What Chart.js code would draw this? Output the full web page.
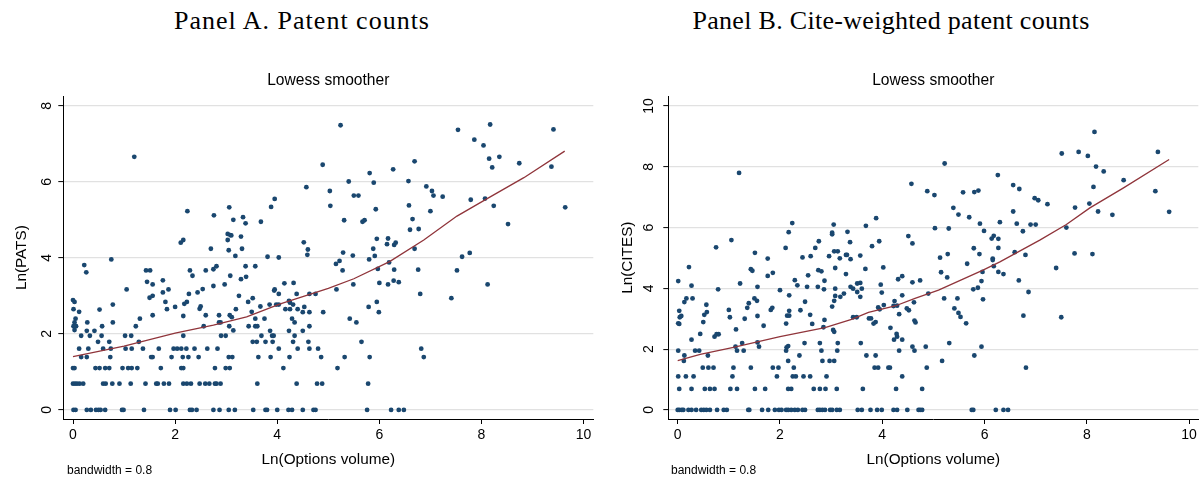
<!DOCTYPE html>
<html>
<head>
<meta charset="utf-8">
<script src="https://cdn.jsdelivr.net/npm/chart.js@4.4.0/dist/chart.umd.min.js"></script>
<style>
  body { margin: 0; background: #fff; width: 1203px; height: 489px; position: relative; overflow: hidden; }
  canvas { position: absolute; top: 0; }
  .ptitle { position: absolute; top: 8px; font-family: "Liberation Serif", serif; font-size: 26px; line-height: 26px;
            letter-spacing: 0.3px; white-space: nowrap; transform: translateX(-50%); color: #000; }
  .note { position: absolute; top: 463px; font-family: "Liberation Sans", Arial, sans-serif; font-size: 12px;
          line-height: 14px; white-space: nowrap; color: #000; }
</style>
</head>
<body>
<div class="ptitle" style="left:302px; letter-spacing:1px">Panel A. Patent counts</div>
<div class="ptitle" style="left:891px">Panel B. Cite-weighted patent counts</div>
<canvas id="chartA" width="600" height="489" style="left:0"></canvas>
<canvas id="chartB" width="603" height="489" style="left:600px"></canvas>
<div class="note" style="left:67px">bandwidth = 0.8</div>
<div class="note" style="left:671px">bandwidth = 0.8</div>
<script>
// ticks
const xTicks = [0, 2, 4, 6, 8, 10];
const patsTicks = [0, 2, 4, 6, 8];
const citesTicks = [0, 2, 4, 6, 8, 10];

// Panel A: [Ln(Options volume), Ln(PATS)]
const patsPoints = [
  // zero patents
  [0.01,0],[0.05,0],[0.27,0],[0.35,0],[0.45,0],[0.50,0],[0.54,0],[0.63,0],[0.96,0],[0.99,0],[1.39,0],[1.90,0],[2.01,0],
  [2.29,0],[2.33,0],[2.42,0],[2.75,0],[2.87,0],[3.05,0],[3.17,0],[3.53,0],[3.77,0],[3.80,0],[4.00,0],[4.22,0],[4.29,0],
  [4.50,0],[4.71,0],[4.75,0],[5.76,0],[6.23,0],[6.38,0],[6.48,0],
  // 0.69
  [0.00,0.69],[0.04,0.69],[0.08,0.69],[0.13,0.69],[0.20,0.69],[0.59,0.69],[0.64,0.69],[0.77,0.69],[0.91,0.69],[1.13,0.69],
  [1.42,0.69],[1.63,0.69],[1.66,0.69],[1.78,0.69],[1.88,0.69],[2.16,0.69],[2.23,0.69],[2.31,0.69],[2.48,0.69],[2.59,0.69],
  [2.67,0.69],[2.78,0.69],[2.81,0.69],[2.89,0.69],[3.61,0.69],[4.38,0.69],[4.78,0.69],[4.88,0.69],[5.78,0.69],
  // 1.10
  [0.00,1.10],[0.03,1.10],[0.44,1.10],[0.52,1.10],[0.63,1.10],[0.71,1.10],[0.97,1.10],[1.08,1.10],[1.15,1.10],[1.26,1.10],
  [1.72,1.10],[2.12,1.10],[2.16,1.10],[2.78,1.10],[2.99,1.10],[3.07,1.10],[4.12,1.10],[5.18,1.10],
  // 1.39
  [0.16,1.39],[0.27,1.39],[0.73,1.39],[1.53,1.39],[1.56,1.39],[1.93,1.39],[2.15,1.39],[2.26,1.39],[2.46,1.39],[3.05,1.39],
  [3.12,1.39],[3.63,1.39],[3.87,1.39],[4.24,1.39],[4.86,1.39],[5.32,1.39],[5.81,1.39],[6.87,1.39],
  // 1.61
  [0.12,1.61],[0.30,1.61],[0.59,1.61],[0.74,1.61],[1.03,1.61],[1.15,1.61],[1.37,1.61],[1.68,1.61],[1.97,1.61],[2.04,1.61],
  [2.12,1.61],[2.22,1.61],[2.38,1.61],[2.63,1.61],[2.83,1.61],[4.03,1.61],[4.40,1.61],[4.63,1.61],[4.80,1.61],[6.82,1.61],
  // 1.79
  [0.49,1.79],[0.71,1.79],[1.29,1.79],[3.52,1.79],[3.60,1.79],[3.77,1.79],[3.91,1.79],[4.31,1.79],[4.61,1.79],[5.65,1.79],
  // 1.95
  [0.16,1.95],[0.33,1.95],[0.56,1.95],[1.02,1.95],[1.14,1.95],[2.16,1.95],[2.90,1.95],[2.99,1.95],[3.69,1.95],[3.90,1.95],
  [3.93,1.95],[4.34,1.95],
  // 2.08 - 2.40
  [0.27,2.08],[0.42,2.08],[0.03,2.10],[3.14,2.09],[3.86,2.08],[4.23,2.08],[4.50,2.08],
  [0.01,2.20],[0.06,2.20],[0.57,2.20],[1.23,2.20],[2.56,2.20],[3.06,2.20],[3.44,2.20],[3.57,2.20],[3.61,2.20],[4.63,2.20],
  [0.03,2.30],[0.28,2.30],[0.78,2.30],[2.86,2.30],[2.89,2.30],[4.34,2.30],[5.55,2.30],
  [0.05,2.40],[1.31,2.40],[3.57,2.40],[3.75,2.40],[4.29,2.40],[5.42,2.40],
  // 2.4 - 3.4
  [0.00,2.89],[0.03,2.84],[0.01,2.65],[0.12,2.58],[0.52,2.64],[0.78,2.77],[1.50,2.95],[1.56,3.00],[1.56,2.49],[1.76,3.09],
  [1.81,2.84],[1.84,2.65],[2.00,2.71],[2.16,2.47],[2.18,2.79],[2.44,3.09],[2.27,3.05],[2.23,2.84],[2.50,2.72],[2.48,2.66],
  [2.60,2.49],[2.86,2.49],[3.07,2.49],[3.11,2.44],[3.19,2.65],[3.25,3.00],[3.43,2.84],[3.52,2.94],[3.50,2.58],[3.67,2.72],
  [3.85,2.77],[3.98,2.77],[4.03,2.77],[3.94,3.14],[4.03,3.05],[4.14,3.33],[4.23,2.87],[4.25,2.82],[4.31,2.77],[4.16,2.65],
  [4.25,2.65],[4.40,2.65],[4.53,2.71],[4.50,2.57],[4.63,2.57],[4.90,2.57],[4.38,3.05],[4.63,3.05],[4.75,3.05],[6.80,3.05],
  [7.41,2.94],[5.79,2.71],[5.95,2.84],[5.99,2.57],
  // upper left
  [1.20,6.66],[0.22,3.81],[0.26,3.62],[0.75,3.96],[1.43,3.67],[1.51,3.67],[1.45,3.37],[1.56,3.30],[1.76,3.41],[2.24,5.23],
  [2.11,4.40],[2.16,4.47],[2.29,3.67],[2.34,3.53],[2.60,3.67],[2.81,3.78],[2.75,3.70],[2.70,4.24],[2.76,5.12],[2.75,3.26],
  [2.97,3.30],[2.54,3.18],[3.06,5.33],[3.14,5.00],[3.33,5.07],[3.38,4.91],[3.03,4.63],[3.08,4.60],[3.03,4.47],[3.10,4.59],
  [3.05,4.20],[3.29,4.56],[3.31,4.24],[3.18,4.05],[3.08,3.53],[3.38,3.78],[3.39,3.50],[3.29,3.44],[3.57,3.78],[3.68,4.95],
  [3.81,4.03],[4.03,4.01],[3.88,5.34],[3.95,5.55],[4.32,3.34],[3.95,3.17],[1.05,3.17],[1.87,3.17],
  // upper right
  [4.52,4.41],[4.60,4.22],[4.59,4.08],[5.24,7.49],[4.89,6.45],[4.57,5.86],[5.03,5.76],[5.04,5.37],[5.40,6.01],[5.50,5.64],
  [5.59,5.64],[5.81,6.23],[5.89,5.98],[6.27,6.33],[5.93,5.28],[5.31,4.99],[5.67,4.95],[5.71,4.99],[6.69,6.54],[6.57,6.02],
  [6.58,5.38],[6.65,5.02],[6.60,4.74],[6.77,4.76],[6.92,5.88],[7.03,5.76],[7.06,5.64],[7.24,5.61],[7.00,5.23],[7.54,7.37],
  [8.17,7.51],[7.86,7.11],[8.04,6.96],[8.15,6.61],[8.21,6.38],[8.35,6.66],[8.74,6.49],[9.41,7.38],[9.37,6.40],[9.64,5.33],
  [7.79,5.53],[8.07,5.56],[8.24,5.37],[8.52,4.89],[5.29,4.14],[5.22,3.92],[5.15,3.84],[5.28,3.67],[5.48,4.06],[5.95,4.50],
  [5.88,4.24],[5.91,4.05],[5.80,3.96],[5.97,3.71],[6.15,4.36],[6.17,4.51],[6.29,4.34],[6.32,4.40],[6.19,3.88],[6.29,3.69],
  [6.69,4.24],[6.76,3.69],[6.00,3.34],[6.17,3.30],[6.28,3.40],[6.38,3.36],[5.49,3.30],[5.16,3.17],[7.52,3.67],[7.62,4.03],
  [7.77,4.13],[8.12,3.30]
];

// Panel B: [Ln(Options volume), Ln(CITES)]
const citesPoints = [
  // zero cites
  [0.00,0],[0.03,0],[0.08,0],[0.11,0],[0.21,0],[0.27,0],[0.36,0],[0.46,0],[0.51,0],[0.56,0],[0.63,0],[0.77,0],[0.90,0],
  [0.96,0],[1.38,0],[1.40,0],[1.65,0],[1.77,0],[1.90,0],[1.98,0],[2.03,0],[2.12,0],[2.16,0],[2.22,0],[2.29,0],[2.35,0],
  [2.44,0],[2.49,0],[2.74,0],[2.78,0],[2.83,0],[2.88,0],[2.98,0],[3.02,0],[3.11,0],[3.17,0],[3.52,0],[3.60,0],[3.77,0],
  [3.90,0],[3.99,0],[4.22,0],[4.29,0],[4.49,0],[4.71,0],[4.74,0],[4.78,0],[5.75,0],[5.78,0],[6.22,0],[6.37,0],[6.46,0],
  // 0.69
  [0.03,0.69],[0.27,0.69],[0.53,0.69],[0.63,0.69],[0.72,0.69],[1.03,0.69],[1.16,0.69],[1.51,0.69],[1.71,0.69],[2.16,0.69],
  [2.22,0.69],[2.66,0.69],[2.78,0.69],[2.89,0.69],[3.11,0.69],[3.62,0.69],[4.27,0.69],[4.78,0.69],
  // 1.10
  [0.01,1.10],[0.16,1.10],[0.31,1.10],[1.07,1.10],[1.94,1.10],[2.25,1.10],[2.31,1.10],[2.46,1.10],[2.59,1.10],[2.91,1.10],
  [4.39,1.10],
  // 1.39
  [0.49,1.39],[0.60,1.39],[0.70,1.39],[1.09,1.39],[1.43,1.39],[1.86,1.39],[1.97,1.39],[2.27,1.39],[3.85,1.39],[3.92,1.39],
  [4.12,1.39],[4.15,1.39],[4.87,1.39],[6.81,1.39],
  // 1.61 - 2.20
  [0.12,1.61],[2.16,1.61],[2.83,1.61],[2.97,1.61],[3.06,1.61],[5.17,1.61],
  [0.13,1.79],[0.59,1.79],[2.38,1.79],[3.69,1.79],[3.87,1.79],[5.80,1.79],
  [0.01,1.95],[0.34,1.95],[0.42,1.95],[1.16,1.95],[1.29,1.95],[2.12,1.95],[2.81,1.95],[3.12,1.95],[4.33,1.95],[4.63,1.95],
  [1.13,2.08],[1.59,2.08],[2.13,2.06],[2.16,2.10],[4.59,2.08],[4.85,2.08],[5.94,2.08],
  [1.26,2.20],[1.56,2.22],[2.48,2.20],[2.78,2.20],[3.13,2.20],[3.58,2.20],[5.31,2.20],
  // lower left cloud
  [0.17,3.67],[0.13,3.55],[0.29,3.67],[0.03,3.26],[0.04,3.05],[0.07,3.09],[0.01,2.85],[0.03,2.83],[0.27,2.31],[0.44,2.50],
  [0.50,2.89],[0.52,3.13],[0.57,3.22],[0.56,3.46],[0.72,2.41],[0.76,2.49],[0.80,2.49],[1.00,3.29],[1.02,3.05],[1.14,2.65],
  [1.31,3.00],[1.36,3.36],[1.39,3.51],[1.50,3.67],[1.55,3.59],[1.56,3.09],[1.68,2.77],[1.82,3.29],[1.85,3.36],[2.18,3.77],
  [2.12,2.84],[2.14,3.10],[2.18,3.10],[3.08,3.75],[3.51,3.88],[3.57,3.72],[3.25,3.83],[3.18,3.72],[3.99,3.86],[2.49,3.56],
  [2.40,3.28],[2.18,3.26],[2.59,3.13],[2.63,2.83],[2.87,2.96],[3.02,3.40],[3.06,3.59],[2.85,2.72],[3.04,2.63],[3.06,2.57],
  [3.43,3.05],[3.50,3.05],[3.74,3.01],[3.78,3.01],[3.83,2.84],[3.87,2.89],[3.92,3.37],[3.95,3.31],[4.03,3.45],
  [4.24,3.58],[4.29,3.43],[4.22,3.42],[4.62,3.54],[4.48,3.34],[4.52,3.28],[4.33,3.15],[4.63,2.94],[4.65,2.88],[4.16,2.70],
  [4.28,2.50],[4.29,2.41],[4.23,2.31],[4.39,2.31],[4.39,3.77],[4.90,3.83],
  [5.21,3.67],[5.47,3.67],[5.41,3.34],[5.49,3.19],[5.53,3.06],[5.64,2.85],[5.97,3.64],[6.86,3.88],[6.76,3.10],[7.50,3.05],
  // upper left
  [1.20,7.80],[0.75,5.35],[1.05,5.59],[0.22,4.70],[0.01,4.24],[0.27,4.09],[1.22,4.16],[0.79,3.97],[1.51,5.17],[1.43,4.63],
  [1.46,4.58],[1.76,4.98],[1.86,4.51],[1.76,4.41],[1.56,4.05],[2.00,3.94],[2.11,5.33],[2.17,5.85],[2.24,6.15],[2.29,4.27],
  [2.34,4.10],[2.44,5.02],[2.55,4.43],[2.60,5.06],[2.53,4.05],[2.69,5.33],[2.76,5.55],[2.75,4.60],[2.81,4.56],[2.87,4.25],
  [2.74,4.05],[2.86,3.97],[2.96,5.06],[3.05,6.10],[3.02,5.83],[3.02,5.78],[3.06,5.22],[3.13,5.22],[3.08,4.67],[3.17,4.99],
  [3.08,3.99],[3.29,5.10],[3.31,5.10],[3.32,5.86],[3.37,5.52],[3.38,4.96],[3.29,4.47],[3.38,4.05],[3.43,3.99],[3.51,4.16],
  [3.57,4.18],[3.57,5.08],[3.67,4.64],[3.68,6.06],[3.60,3.99],[3.80,5.39],[3.88,6.31],[3.94,5.55],[3.97,4.12],[4.02,4.69],
  [4.31,4.30],
  // upper right
  [5.22,8.11],[4.57,7.44],[4.88,7.20],[5.02,7.07],[5.58,7.16],[5.80,7.17],[5.88,7.22],[6.26,7.73],[5.39,6.65],[5.49,6.43],
  [5.70,6.34],[5.03,5.98],[5.30,5.97],[5.91,6.13],[5.99,5.89],[6.14,5.64],[6.18,5.73],[6.27,5.63],[6.30,6.18],[6.56,7.40],
  [6.68,7.27],[6.56,6.53],[6.63,6.13],[6.75,5.88],[6.90,6.10],[7.00,6.10],[6.98,6.97],[7.05,6.90],[7.23,6.77],[7.51,8.44],
  [7.84,8.49],[8.02,8.36],[8.15,9.15],[8.18,8.01],[8.33,7.85],[8.13,7.34],[7.77,6.66],[8.05,6.79],[8.22,6.53],[8.50,6.42],
  [8.72,7.56],[9.39,8.49],[9.34,7.20],[9.61,6.52],[7.60,6.00],[7.76,5.15],[8.11,5.13],[7.40,4.67],[4.51,5.72],[4.59,5.48],
  [5.13,5.01],[5.28,5.13],[5.15,4.53],[5.27,4.36],[5.66,4.81],[5.79,5.32],[5.90,5.13],[6.16,4.98],[6.16,4.93],[6.18,4.73],
  [6.27,5.33],[5.96,4.54],[5.94,4.24],[6.27,4.54],[6.37,4.47],[6.59,5.19],[6.80,5.10],[6.67,4.26],[4.39,4.40],[4.59,4.20],
  [4.74,4.26],[5.87,4.02],[5.78,3.97]
];

// lowess curves
const patsLowessX = [0, 1, 2, 2.75, 3.4, 4.06, 4.5, 5, 5.5, 6.2, 6.87, 7.52, 8.18, 8.83, 9.63];
const patsLowessY = [1.40, 1.68, 2.02, 2.23, 2.45, 2.79, 2.98, 3.20, 3.45, 3.90, 4.47, 5.10, 5.61, 6.11, 6.81];
const citesLowessX = [0, 0.44, 1.09, 2.0, 2.88, 3.4, 3.73, 4.25, 4.64, 5.1, 5.97, 6.3, 7.08, 7.6, 8.06, 8.71, 9.61];
const citesLowessY = [1.62, 1.83, 2.06, 2.41, 2.71, 2.98, 3.21, 3.42, 3.67, 3.94, 4.60, 4.87, 5.59, 6.10, 6.65, 7.30, 8.24];

const NAVY = "#1a476f";
const MAROON = "#90353b";
const FONT = "'Liberation Sans', Arial, sans-serif";

function makePanel(canvasId, cfg) {
  const pts = cfg.points.map(p => ({ x: p[0], y: p[1] }));
  const curve = cfg.lowessX.map((x, i) => ({ x: x, y: cfg.lowessY[i] }));

  return new Chart(document.getElementById(canvasId), {
    type: "scatter",
    data: {
      datasets: [
        {
          data: curve,
          showLine: true,
          borderColor: MAROON,
          borderWidth: 1.3,
          pointRadius: 0,
          fill: false
        },
        {
          data: pts,
          pointRadius: 2.4,
          pointBorderWidth: 0,
          pointBackgroundColor: NAVY
        }
      ]
    },
    options: {
      responsive: false,
      animation: false,
      devicePixelRatio: 1,
      layout: { padding: { top: 70.84, right: cfg.padRight, left: 0, bottom: 0 } },
      plugins: {
        legend: { display: false },
        tooltip: { enabled: false },
        title: {
          display: true,
          text: "Lowess smoother",
          fullSize: false,
          color: "#000",
          font: { family: FONT, size: 15.6, weight: "normal" },
          padding: { top: 0, bottom: 6.8 }
        }
      },
      scales: {
        x: {
          type: "linear",
          min: cfg.xMin,
          max: cfg.xMax,
          afterBuildTicks: s => { s.ticks = xTicks.map(v => ({ value: v })); },
          afterFit: s => { s.height = 70; },
          grid: { drawOnChartArea: false, drawTicks: true, tickLength: 5, tickColor: "#000", tickWidth: 1 },
          border: { display: true, color: "#000", width: 1 },
          ticks: { color: "#000", font: { family: FONT, size: 14 }, padding: 3, maxRotation: 0 },
          title: {
            display: true,
            text: "Ln(Options volume)",
            color: "#000",
            font: { family: FONT, size: 15.3 },
            padding: { top: 0, bottom: 20.3 }
          }
        },
        y: {
          type: "linear",
          min: cfg.yMin,
          max: cfg.yMax,
          afterBuildTicks: s => { s.ticks = cfg.yTicks.map(v => ({ value: v })); },
          afterFit: s => { s.width = cfg.yWidth; },
          grid: { color: "#e1e1e1", lineWidth: 1.2, drawTicks: true, tickLength: 5, tickColor: "#000", tickWidth: 1 },
          border: { display: true, color: "#000", width: 1 },
          ticks: {
            color: "#000",
            font: { family: FONT, size: 14 },
            minRotation: 90,
            maxRotation: 90,
            crossAlign: "center",
            padding: cfg.yTickPad
          },
          title: {
            display: true,
            text: cfg.yTitle,
            color: "#000",
            font: { family: FONT, size: 15.3 },
            padding: { top: cfg.yTitlePad, bottom: 0 }
          }
        }
      }
    }
  });
}

makePanel("chartA", {
  points: patsPoints,
  lowessX: patsLowessX,
  lowessY: patsLowessY,
  yTicks: patsTicks,
  yTitle: "Ln(PATS)",
  xMin: -0.19, xMax: 10.19,
  yMin: -0.24, yMax: 8.25,
  yWidth: 63.3,
  padRight: 6.7,
  yTickPad: 7.7,
  yTitlePad: 12.8
});

makePanel("chartB", {
  points: citesPoints,
  lowessX: citesLowessX,
  lowessY: citesLowessY,
  yTicks: citesTicks,
  yTitle: "Ln(CITES)",
  xMin: -0.184, xMax: 10.18,
  yMin: -0.30, yMax: 10.32,
  yWidth: 68.3,
  padRight: 4.7,
  yTickPad: 6.2,
  yTitlePad: 18.8
});
</script>
</body>
</html>
